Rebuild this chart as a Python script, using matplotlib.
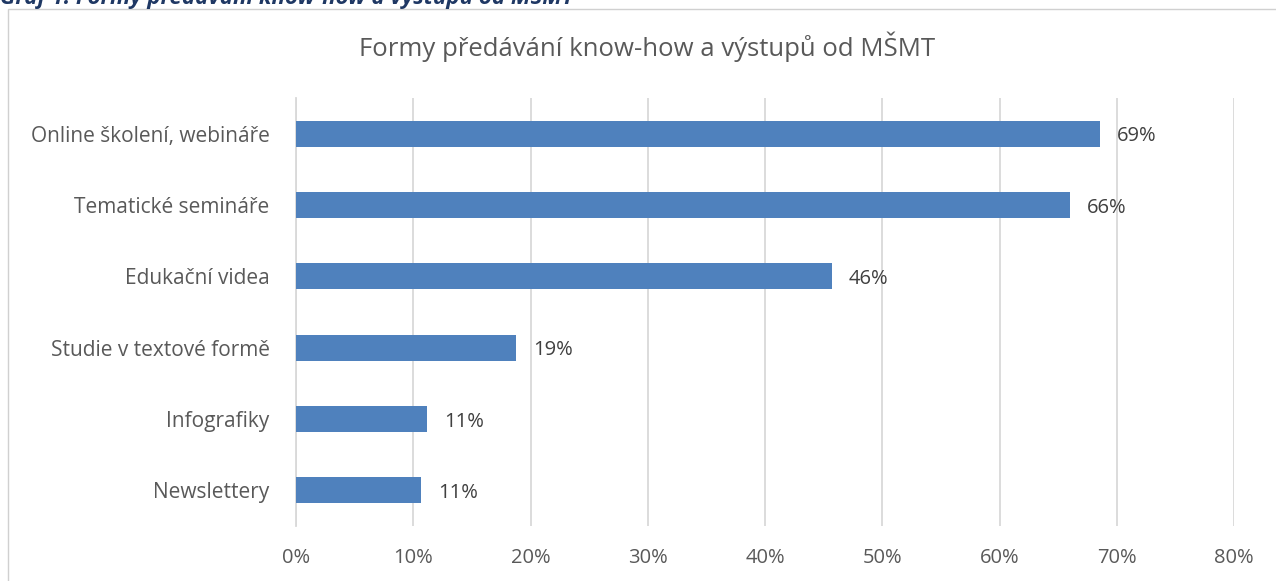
import matplotlib
matplotlib.use("Agg")
import matplotlib.pyplot as plt
from matplotlib.patches import Rectangle
from matplotlib.ticker import PercentFormatter

categories = ["Online školení, webináře", "Tematické semináře", "Edukační videa",
              "Studie v textové formě", "Infografiky", "Newslettery"]
values = [68.6, 66.0, 45.7, 18.8, 11.2, 10.7]
labels = ["69%", "66%", "46%", "19%", "11%", "11%"]
xticks = [0, 10, 20, 30, 40, 50, 60, 70, 80]

plt.rcParams['font.family'] = ['Open Sans', 'DejaVu Sans']

W, H = 1276, 581
fig = plt.figure(figsize=(W/100, H/100), dpi=100)
ax = fig.add_axes([296/W, 1-526/H, (1234-296)/W, (526-98)/H])

# chart border
fig.patches.append(Rectangle((8/W, -0.1), 1.2, 1.1-9/H, transform=fig.transFigure,
                             fill=False, edgecolor="#d0d0d0", linewidth=1.0))
fig.text(0.0, 1-4/H, "Graf 1: Formy předávání know-how a výstupů od MŠMT",
         fontsize=16, fontweight="bold", style="italic", color="#1f3864",
         va="baseline", ha="left")

y = list(range(len(categories)))[::-1]
ax.barh(y, values, height=0.36, color="#4f81bd", zorder=3)
for yi, v, lab in zip(y, values, labels):
    ax.annotate(lab, (v, yi), xytext=(12, -2), textcoords="offset points",
                va="center", ha="left", fontsize=14.5, color="#404040")

ax.set_xlim(0, 80)
ax.set_ylim(-0.5, len(categories) - 0.5)
ax.set_xticks(xticks)
ax.xaxis.set_major_formatter(PercentFormatter(decimals=0))
ax.set_yticks(y)
ax.set_yticklabels(categories)
ax.tick_params(axis="both", length=0, labelsize=14.5, labelcolor="#595959")
ax.tick_params(axis="y", labelsize=15)
ax.tick_params(axis="x", pad=16)
ax.tick_params(axis="y", pad=19)
ax.grid(axis="x", color="#d9d9d9", linewidth=1.3, zorder=0)
for s in ["top", "right", "bottom"]:
    ax.spines[s].set_visible(False)
ax.spines["left"].set_color("#d9d9d9")
ax.spines["left"].set_linewidth(1.3)

fig.text(647/W, 1-47/H, "Formy předávání know-how a výstupů od MŠMT",
         fontsize=18.5, color="#595959", ha="center", va="center")

fig.savefig("out.png", dpi=100)
